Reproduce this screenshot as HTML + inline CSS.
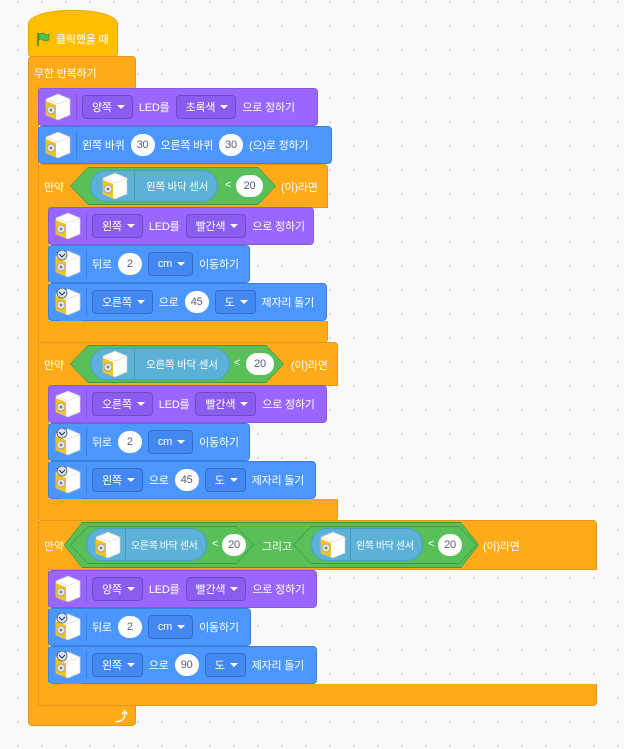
<!DOCTYPE html>
<html><head><meta charset="utf-8"><style>
*{box-sizing:border-box;margin:0;padding:0}
body{width:624px;height:749px;background:#f9f9f9;background-image:radial-gradient(#d9d9d9 1px,transparent 1.3px);background-size:24px 24px;background-position:6px 14px;position:relative;overflow:hidden;font-family:"Liberation Sans","Noto Sans CJK KR",sans-serif;font-size:11px;letter-spacing:-0.2px;color:#fff}
.a{position:absolute;white-space:nowrap}
.or{background:#ffab19;border:1px solid #e6961a}
.blk{position:absolute;display:flex;align-items:center;border-radius:4px;padding-left:4px;white-space:nowrap;overflow:hidden}
.blk>*,.rep>*{flex-shrink:0}
svg{flex-shrink:0}
.pu{background:#9966ff;border:1px solid #855cd6}
.bl{background:#4c97ff;border:1px solid #3d7fd9}
.sep{width:1px;height:28px;background:rgba(0,0,0,.15);margin:0 5px 0 3px}
.dd{height:24px;padding:0 7px 0 9px;border:1px solid rgba(0,0,0,.18);border-radius:4px;display:flex;align-items:center;margin-right:6px}
.pu .dd{background:#8a5cf0}
.bl .dd{background:#4387f0}
.dd:after{content:"";border-left:4px solid transparent;border-right:4px solid transparent;border-top:4px solid #fff;margin-left:5px}
.t{margin-right:6px}
.ov{background:#fff;color:#575e75;height:22px;min-width:24px;padding:0 6px;border-radius:11px;display:flex;align-items:center;justify-content:center;margin-right:6px}
.hex{position:absolute;background:#3f9a3f;clip-path:polygon(0 50%,18px 0,calc(100% - 18px) 0,100% 50%,calc(100% - 18px) 100%,18px 100%)}
.hex>div{position:absolute;inset:1px;background:#59c059;clip-path:polygon(0 50%,17px 0,calc(100% - 17px) 0,100% 50%,calc(100% - 17px) 100%,17px 100%)}
.rep{position:absolute;background:#5cb1d6;border:1px solid #4a9fc4;border-radius:16px;display:flex;align-items:center;padding-left:9px;height:32px;white-space:nowrap;font-size:10.5px;overflow:hidden}
.rep .sep{height:32px;margin:0 11px 0 4px}
.rep.s{padding-left:6px;font-size:10px;letter-spacing:-0.4px}
.rep.s .sep{margin:0 5px 0 2px}
.tab{position:absolute;height:5px;width:22px;border-radius:0 0 4px 4px}
</style></head><body>
<svg width="0" height="0" style="position:absolute"><defs>
<g id="ic"><path d="M3 6 L15 1 L27 6 L27 22 L15 27 L3 22Z" fill="#fff" stroke="#ccc" stroke-width="0.7"/><path d="M3 6 L15 11 L27 6" fill="none" stroke="#ddd" stroke-width="0.7"/><path d="M3 8 L13 12 L13 26 L3 22Z" fill="#f3c419"/><circle cx="8" cy="17" r="4" fill="#e8e8e8" stroke="#999" stroke-width="0.8"/><circle cx="8" cy="17" r="1.5" fill="#888"/></g>
<g id="ic2"><use href="#ic"/><circle cx="9" cy="5" r="5" fill="#cfe4ff" stroke="#555" stroke-width="0.8"/><path d="M6 4 L9 7 L12 4" fill="none" stroke="#333" stroke-width="1"/></g>
</defs></svg>

<!-- hat -->
<div class="a" style="left:28px;top:10px;width:90px;height:47px;background:#ffbf00;border:1px solid #e6a800;border-radius:40px 40px 4px 4px/14px 14px 4px 4px"></div>
<div class="a" style="left:28px;top:24px;width:90px;height:33px;background:#ffbf00;border:1px solid #e6a800;border-top:none;border-radius:0 8px 4px 4px"></div>
<div class="a" style="left:36px;top:31px;display:flex;align-items:center"><svg width="14" height="14"><path d="M2 1v13" stroke="#3a8a2a" stroke-width="1.5"/><path d="M3 2 Q7 0 9 2 T13 2 V8 Q9 10 7 8 T3 8Z" fill="#4cbf56" stroke="#3a8a2a" stroke-width=".6"/></svg><span style="margin-left:6px">클릭했을 때</span></div>

<!-- forever -->
<div class="a or" style="left:28px;top:56px;width:108px;height:33px;border-radius:4px 4px 0 0"></div>
<div class="a" style="left:34px;top:65px">무한 반복하기</div>
<div class="a or" style="left:28px;top:86px;width:11px;height:622px;border-top:none;border-bottom:none"></div>
<div class="a or" style="left:28px;top:705px;width:108px;height:21px;border-radius:0 0 4px 4px;border-top:none"></div>
<div class="a" style="left:115px;top:706px;font-size:13px;font-weight:bold">⤴</div>

<!-- block 1 -->
<div class="blk pu" style="left:38px;top:88px;width:280px;height:38px"><svg width="30" height="28"><use href="#ic"/></svg><div class="sep"></div><div class="dd">양쪽</div><span class="t">LED를</span><div class="dd">초록색</div><span class="t">으로 정하기</span></div>
<div class="blk bl" style="left:38px;top:126px;width:294px;height:38px"><svg width="30" height="28"><use href="#ic"/></svg><div class="sep"></div><span class="t">왼쪽 바퀴</span><div class="ov">30</div><span class="t">오른쪽 바퀴</span><div class="ov">30</div><span class="t">(으)로 정하기</span></div>

<!-- if 1 -->
<div class="a or" style="left:38px;top:164px;width:290px;height:44px;border-radius:4px 4px 0 0"></div>
<div class="a" style="left:44px;top:179px">만약</div>
<div class="hex" style="left:70px;top:167px;width:206px;height:38px"><div></div></div>
<div class="rep" style="left:90px;top:170px;width:128px"><svg width="30" height="28"><use href="#ic"/></svg><div class="sep"></div>왼쪽 바닥 센서</div>
<div class="a" style="left:225px;top:179px">&lt;</div>
<div class="a ov" style="left:236px;top:175px;width:27px">20</div>
<div class="a" style="left:281px;top:179px">(이)라면</div>
<div class="a or" style="left:38px;top:206px;width:11px;height:118px;border-top:none;border-bottom:none"></div>
<div class="blk pu" style="left:48px;top:207px;width:266px;height:38px"><svg width="30" height="28"><use href="#ic"/></svg><div class="sep"></div><div class="dd">왼쪽</div><span class="t">LED를</span><div class="dd">빨간색</div><span class="t">으로 정하기</span></div>
<div class="blk bl" style="left:48px;top:245px;width:202px;height:38px"><svg width="30" height="28"><use href="#ic2"/></svg><div class="sep"></div><span class="t">뒤로</span><div class="ov">2</div><div class="dd">cm</div><span class="t">이동하기</span></div>
<div class="blk bl" style="left:48px;top:283px;width:279px;height:38px"><svg width="30" height="28"><use href="#ic2"/></svg><div class="sep"></div><div class="dd">오른쪽</div><span class="t">으로</span><div class="ov">45</div><div class="dd">도</div><span class="t">제자리 돌기</span></div>
<div class="tab" style="left:60px;top:320px;background:#4c97ff"></div>
<div class="a or" style="left:38px;top:321px;width:290px;height:22px;border-top:none;border-radius:0 0 4px 4px"></div>

<!-- if 2 -->
<div class="a or" style="left:38px;top:342px;width:300px;height:44px;border-radius:4px 4px 0 0"></div>
<div class="a" style="left:44px;top:357px">만약</div>
<div class="hex" style="left:70px;top:345px;width:214px;height:38px"><div></div></div>
<div class="rep" style="left:90px;top:348px;width:140px"><svg width="30" height="28"><use href="#ic"/></svg><div class="sep"></div>오른쪽 바닥 센서</div>
<div class="a" style="left:234px;top:357px">&lt;</div>
<div class="a ov" style="left:246px;top:353px;width:28px">20</div>
<div class="a" style="left:291px;top:357px">(이)라면</div>
<div class="a or" style="left:38px;top:384px;width:11px;height:118px;border-top:none;border-bottom:none"></div>
<div class="blk pu" style="left:48px;top:385px;width:279px;height:38px"><svg width="30" height="28"><use href="#ic"/></svg><div class="sep"></div><div class="dd">오른쪽</div><span class="t">LED를</span><div class="dd">빨간색</div><span class="t">으로 정하기</span></div>
<div class="blk bl" style="left:48px;top:423px;width:202px;height:38px"><svg width="30" height="28"><use href="#ic2"/></svg><div class="sep"></div><span class="t">뒤로</span><div class="ov">2</div><div class="dd">cm</div><span class="t">이동하기</span></div>
<div class="blk bl" style="left:48px;top:461px;width:268px;height:38px"><svg width="30" height="28"><use href="#ic2"/></svg><div class="sep"></div><div class="dd">왼쪽</div><span class="t">으로</span><div class="ov">45</div><div class="dd">도</div><span class="t">제자리 돌기</span></div>
<div class="tab" style="left:60px;top:498px;background:#4c97ff"></div>
<div class="a or" style="left:38px;top:499px;width:300px;height:22px;border-top:none;border-radius:0 0 4px 4px"></div>

<!-- if 3 -->
<div class="a or" style="left:38px;top:520px;width:559px;height:50px;border-radius:4px 4px 0 0"></div>
<div class="a" style="left:44px;top:538px">만약</div>
<div class="hex" style="left:64px;top:522px;width:415px;height:46px"><div></div></div>
<div class="hex" style="left:70px;top:526px;width:184px;height:38px"><div></div></div>
<div class="hex" style="left:293px;top:526px;width:184px;height:38px"><div></div></div>
<div class="rep s" style="left:86px;top:528px;width:121px;height:33px"><svg width="30" height="28"><use href="#ic"/></svg><div class="sep"></div>오른쪽 바닥 센서</div>
<div class="a" style="left:212px;top:538px">&lt;</div>
<div class="a ov" style="left:222px;top:534px;width:24px">20</div>
<div class="a" style="left:262px;top:538px">그리고</div>
<div class="rep s" style="left:311px;top:528px;width:112px;height:33px"><svg width="30" height="28"><use href="#ic"/></svg><div class="sep"></div>왼쪽 바닥 센서</div>
<div class="a" style="left:428px;top:538px">&lt;</div>
<div class="a ov" style="left:438px;top:534px;width:24px">20</div>
<div class="a" style="left:483px;top:538px">(이)라면</div>
<div class="a or" style="left:38px;top:568px;width:11px;height:118px;border-top:none;border-bottom:none"></div>
<div class="blk pu" style="left:48px;top:570px;width:269px;height:38px"><svg width="30" height="28"><use href="#ic"/></svg><div class="sep"></div><div class="dd">양쪽</div><span class="t">LED를</span><div class="dd">빨간색</div><span class="t">으로 정하기</span></div>
<div class="blk bl" style="left:48px;top:608px;width:203px;height:38px"><svg width="30" height="28"><use href="#ic2"/></svg><div class="sep"></div><span class="t">뒤로</span><div class="ov">2</div><div class="dd">cm</div><span class="t">이동하기</span></div>
<div class="blk bl" style="left:48px;top:646px;width:269px;height:38px"><svg width="30" height="28"><use href="#ic2"/></svg><div class="sep"></div><div class="dd">왼쪽</div><span class="t">으로</span><div class="ov">90</div><div class="dd">도</div><span class="t">제자리 돌기</span></div>
<div class="tab" style="left:60px;top:683px;background:#4c97ff"></div>
<div class="a or" style="left:38px;top:684px;width:559px;height:22px;border-top:none;border-radius:0 0 4px 4px"></div>
</body></html>
